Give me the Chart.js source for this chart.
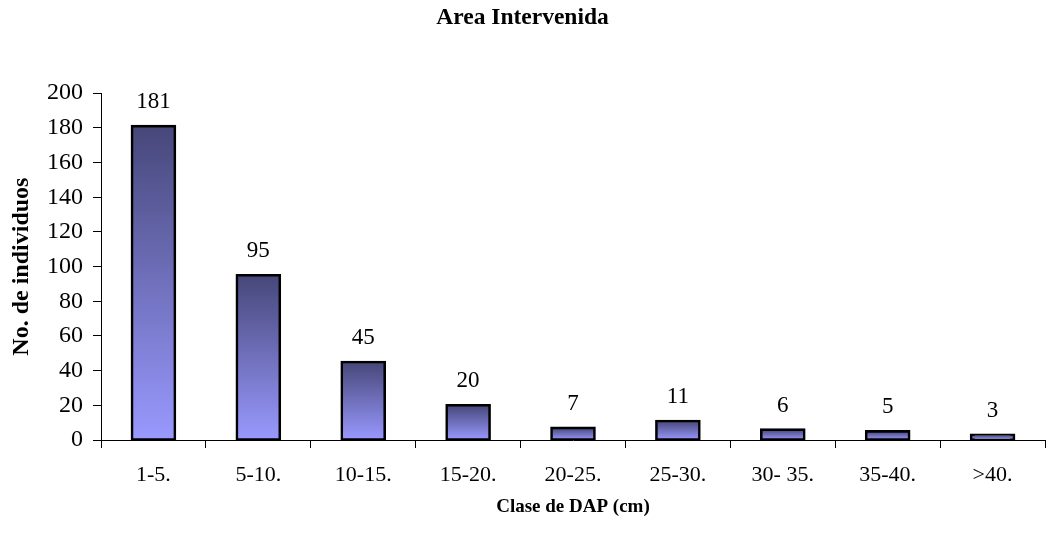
<!DOCTYPE html>
<html>
<head>
<meta charset="utf-8">
<script src="https://cdn.jsdelivr.net/npm/chart.js@4/dist/chart.umd.min.js"></script>
<style>
  html, body { margin: 0; padding: 0; background: #fff; }
  #wrap { width: 1047px; height: 542px; position: relative; }
</style>
</head>
<body>
<div id="wrap"><canvas id="c"></canvas></div>
<script>
// Diameter classes (DAP) and number of individuals per class
const categories = ['1-5.', '5-10.', '10-15.', '15-20.', '20-25.', '25-30.', '30- 35.', '35-40.', '>40.'];
const individuos = [181, 95, 45, 20, 7, 11, 6, 5, 3];
const yTicks = [0, 20, 40, 60, 80, 100, 120, 140, 160, 180, 200];

const SERIF = '"Liberation Serif", "Times New Roman", serif';

// Vertical gradient per bar: dark at the top of each bar, light at its base
function barGradient(ctx) {
  const chart = ctx.chart;
  const y = chart.scales && chart.scales.y;
  if (!y || !chart.chartArea || ctx.dataIndex === undefined) return '#7a7ad0';
  const v = ctx.dataset.data[ctx.dataIndex];
  const top = y.getPixelForValue(v);
  const bottom = y.getPixelForValue(0);
  if (!isFinite(top) || !isFinite(bottom) || top === bottom) return '#7a7ad0';
  const g = chart.ctx.createLinearGradient(0, top, 0, bottom);
  g.addColorStop(0, '#47477a');
  g.addColorStop(1, '#9999ff');
  return g;
}

// Value printed above each bar
const valueLabels = {
  id: 'valueLabels',
  afterDatasetsDraw(chart) {
    const ctx = chart.ctx;
    const meta = chart.getDatasetMeta(0);
    ctx.save();
    ctx.font = '23px ' + SERIF;
    ctx.fillStyle = '#000';
    ctx.textAlign = 'center';
    ctx.textBaseline = 'alphabetic';
    meta.data.forEach((bar, i) => {
      ctx.fillText(String(chart.data.datasets[0].data[i]), bar.x, bar.y - 18);
    });
    ctx.restore();
  }
};

new Chart(document.getElementById('c'), {
  type: 'bar',
  data: {
    labels: categories,
    datasets: [{
      data: individuos,
      backgroundColor: barGradient,
      borderColor: '#000',
      borderWidth: 2.6,
      inflateAmount: 1.3,
      borderSkipped: false,
      categoryPercentage: 1,
      barPercentage: 0.41
    }]
  },
  options: {
    responsive: true,
    maintainAspectRatio: false,
    animation: false,
    layout: { padding: { top: 0, right: 2, bottom: 0, left: 0 } },
    plugins: {
      legend: { display: false },
      tooltip: { enabled: false },
      title: {
        display: true,
        text: 'Area Intervenida',
        color: '#000',
        font: { family: SERIF, size: 23.5, weight: 'bold', lineHeight: 1.2 },
        padding: { top: 4, bottom: 61 }
      }
    },
    scales: {
      x: {
        grid: {
          display: true,
          offset: true,
          drawOnChartArea: false,
          drawTicks: true,
          tickLength: 8,
          tickColor: '#000',
          tickWidth: 1
        },
        border: { display: true, color: '#000', width: 1 },
        ticks: {
          color: '#000',
          padding: 14,
          maxRotation: 0,
          autoSkip: false,
          font: { family: SERIF, size: 22 }
        },
        title: {
          display: true,
          text: 'Clase de DAP (cm)',
          color: '#000',
          font: { family: SERIF, size: 19, weight: 'bold' },
          padding: { top: 0, bottom: 24 }
        },
        afterFit(scale) { scale.height = 102; }
      },
      y: {
        min: 0,
        max: 200,
        afterBuildTicks(scale) { scale.ticks = yTicks.map(v => ({ value: v })); },
        grid: {
          display: true,
          drawOnChartArea: false,
          drawTicks: true,
          tickLength: 8,
          tickColor: '#000',
          tickWidth: 1
        },
        border: { display: true, color: '#000', width: 1 },
        ticks: {
          color: '#000',
          padding: 10,
          font: { family: SERIF, size: 24 }
        },
        title: {
          display: true,
          text: 'No. de individuos',
          color: '#000',
          font: { family: SERIF, size: 24, weight: 'bold' },
          padding: { top: 7, bottom: 0 }
        },
        afterFit(scale) { scale.width = 101; }
      }
    }
  },
  plugins: [valueLabels]
});
</script>
</body>
</html>
